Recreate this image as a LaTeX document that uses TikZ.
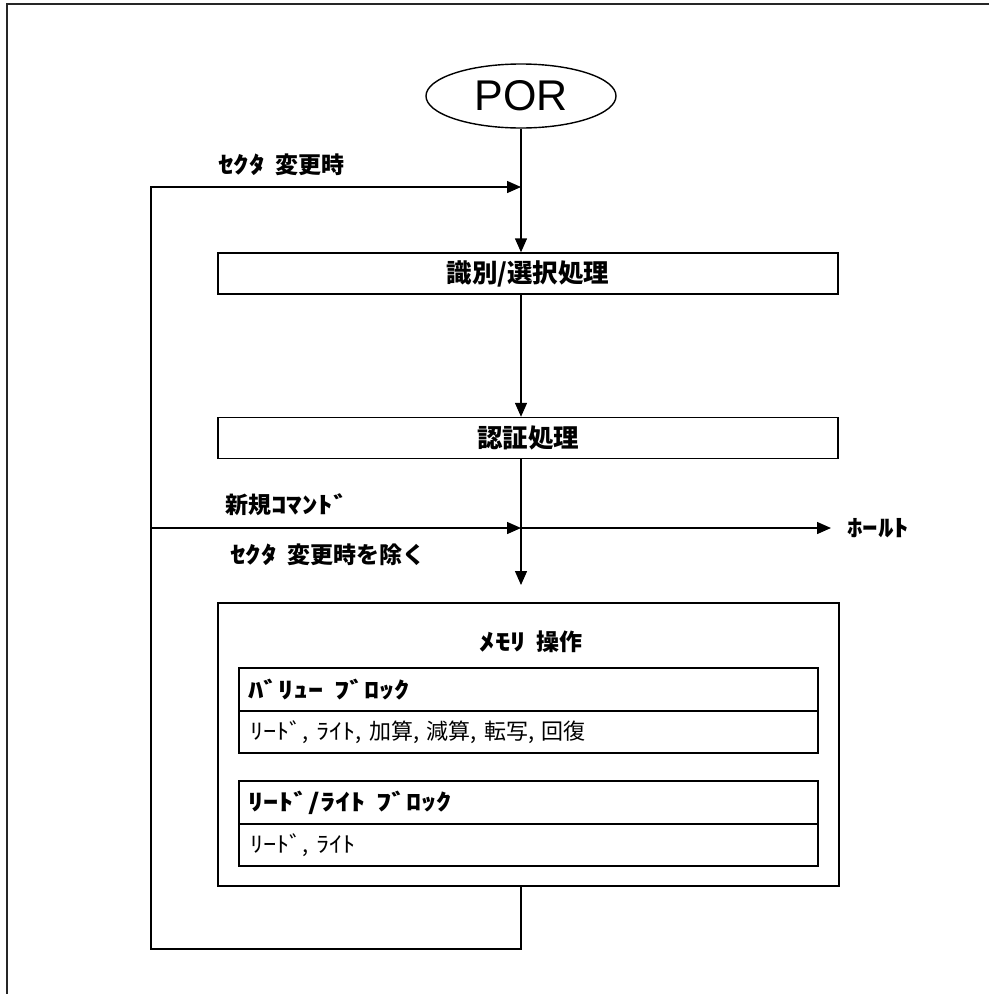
\documentclass[tikz,border=0pt]{standalone}
\usepackage{fontspec}
\usepackage{graphicx}
\newfontfamily\jp{Noto Sans CJK JP}
\newfontfamily\arialf{Liberation Sans}
\newcommand{\hk}[1]{\scalebox{1.2}[1]{#1}}
\newcommand{\hkb}[1]{\scalebox{1.35}[1]{#1}}
\newcommand{\hsp}{\hspace{0.45em}}
\usetikzlibrary{arrows.meta,shapes.geometric}
\begin{document}
\begin{tikzpicture}[x=1pt,y=-1pt,
  ln/.style={line width=1.4pt, draw=black},
  arr/.style={ln, -{Triangle[length=14pt,width=12pt]}},
  procbox/.style={draw, line width=1.4pt, minimum width=620pt, minimum height=41pt, inner sep=0pt,
    font=\jp\bfseries\fontsize{25.5}{27}\selectfont},
  lbl/.style={anchor=west, inner sep=0pt, font=\jp\bfseries\fontsize{23}{25}\selectfont},
  hdr/.style={draw, line width=1.4pt, minimum width=579pt, minimum height=43pt, inner xsep=9pt, inner ysep=0pt,
    text width=561pt, align=left, font=\jp\bfseries\fontsize{22.5}{24}\selectfont},
  bdy/.style={draw, line width=1.4pt, minimum width=579pt, minimum height=42pt, inner xsep=11pt, inner ysep=0pt,
    text width=557pt, align=left, font=\jp\fontsize{22}{24}\selectfont}
]
\useasboundingbox (0,0) rectangle (989,994);
% frame
\draw[line width=1.8pt, draw=black!85] (989,4) -- (7,4) -- (7,994);

% nodes
\node[draw, ellipse, line width=1.4pt, minimum width=190pt, minimum height=64pt, inner sep=0pt,
  font=\arialf\fontsize{43}{45}\selectfont] (por) at (521,96) {POR};
\node[procbox] (idb) at (528,273.5) {識別/選択処理};
\node[procbox] (auth) at (528,438) {認証処理};
\node[draw, line width=1.4pt, minimum width=621pt, minimum height=283pt, inner sep=0pt] (mem) at (528.5,744.5) {};
\node[inner sep=0pt, font=\jp\bfseries\fontsize{23}{25}\selectfont] (memt) at (531,642) {\hkb{ﾒﾓﾘ}\hsp 操作};
\node[hdr] (vh) at (528.5,689.5) {\hkb{ﾊﾞﾘｭｰ}\hsp\hkb{ﾌﾞﾛｯｸ}};
\node[bdy] (vb) at (528.5,732) {\hk{ﾘｰﾄﾞ}, \hk{ﾗｲﾄ}, 加算, 減算, 転写, 回復};
\node[hdr] (rh) at (528.5,802.5) {\hkb{ﾘｰﾄﾞ/ﾗｲﾄ}\hsp\hkb{ﾌﾞﾛｯｸ}};
\node[bdy] (rb) at (528.5,845) {\hk{ﾘｰﾄﾞ}, \hk{ﾗｲﾄ}};

% labels
\node[lbl] (l1) at (218,165) {\hkb{ｾｸﾀ}\hsp 変更時};
\node[lbl] (l2) at (225,505) {新規\hkb{ｺﾏﾝﾄﾞ}};
\node[lbl] (l3) at (230,555) {\hkb{ｾｸﾀ}\hsp 変更時を除く};
\node[lbl] (hold) at (847,528) {\hkb{ﾎｰﾙﾄ}};

% coordinates
\coordinate (j1) at (521,187);
\coordinate (j2) at (521,528);
\coordinate (lt) at (151,187);
\coordinate (lm) at (151,528);
\coordinate (lbl) at (151,949);
\coordinate (tipm) at (521,585);
\coordinate (tiph) at (831,528);

% connectors
\draw[arr] (por.south) -- (por.south |- idb.north);
\draw[arr] (por.south |- idb.south) -- (por.south |- auth.north);
\draw[arr] (por.south |- auth.south) -- (tipm);
\draw[arr] (lm) -- (j2);
\draw[arr] (j2) -- (tiph);
\draw[arr] (por.south |- mem.south) |- (lbl) -- (lt) -- (j1);
\end{tikzpicture}
\end{document}
